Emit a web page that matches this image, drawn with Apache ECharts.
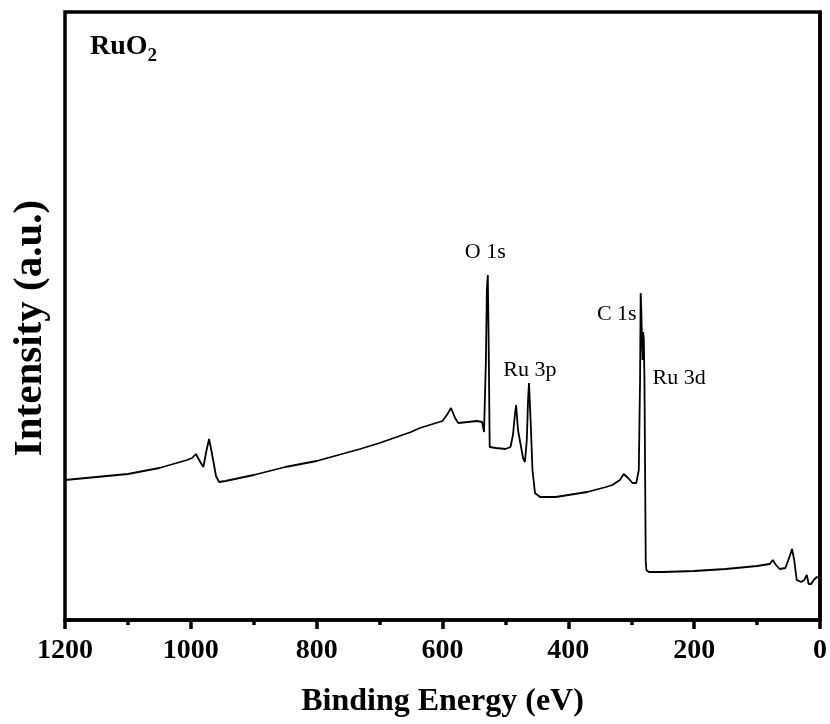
<!DOCTYPE html>
<html><head><meta charset="utf-8">
<script src="https://cdn.jsdelivr.net/npm/echarts@6/dist/echarts.min.js"></script>
<style>html,body{margin:0;padding:0;background:#fff}#c{width:830px;height:724px}</style>
</head><body><div id="c"></div>
<script>
// Binding energy (eV) and intensity (a.u., arbitrary)
const energy = [1200,1100,1050,1006,998,992,985,980,975,971,966,960,955,945,900,850,800,731,700,650,636,600,592,586.5,580,575,560,545,537,534,531,529.5,528,526.5,525,515,500,492,488,485,483,480,472,469,466,464,462.5,460,457,453,445,420,400,370,340,330,318,312,305,298,292,288,286,285,284,283,282,281,280,279,278,277,276,272,250,200,150,100,90,80,75,70,64,55,48,44.5,41,37,30,25,21,18,14,10,5,0];
const intensity = [140,146,152,160,162,166,158,153,170,181,165,144,138,139,145,153,159,171,177,188,192,199,206,212,202,197,198,199,198,188,260,330,345,270,173,172,171,173,185,205,215,190,162,158,180,220,237,200,150,127,123,123,125,128,133,135,140,146,142,137,137,150,240,327,310,280,260,288,280,240,150,60,50,48,48,49,51,54,55,56,60,55,51,52,64,71,60,40,38,40,45,36,36,40,43,42];
const xTicks = [1200,1000,800,600,400,200,0];
const peakLabels = [
  {name:'O 1s', e:532, v:368},
  {name:'Ru 3p', e:461, v:250},
  {name:'C 1s', e:323, v:306},
  {name:'Ru 3d', e:224, v:242}
];
const sampleName = 'RuO';

const data = energy.map((e,i)=>[e,intensity[i]]);
const chart = echarts.init(document.getElementById('c'));
const serif = '"Liberation Serif","Times New Roman",serif';
chart.setOption({
  animation:false,
  grid:{left:65,right:10,top:12,bottom:104,show:true,borderColor:'#000',borderWidth:3.5,containLabel:false},
  xAxis:{type:'value',min:0,max:1200,interval:200,inverse:true,
    name:'Binding Energy (eV)',nameLocation:'middle',nameGap:66,
    nameTextStyle:{fontFamily:serif,fontWeight:'bold',fontSize:32,color:'#000'},
    axisLine:{lineStyle:{color:'#000',width:3.5}},
    axisTick:{show:true,inside:false,length:9,lineStyle:{color:'#000',width:3.5}},
    minorTick:{show:true,splitNumber:2,length:5,lineStyle:{color:'#000',width:3.5}},
    splitLine:{show:false},
    axisLabel:{fontFamily:serif,fontWeight:'bold',fontSize:28,color:'#000',margin:17,
      formatter:v=>xTicks.includes(v)?String(v):''}
  },
  yAxis:{type:'value',min:0,max:608,
    name:'Intensity (a.u.)',nameLocation:'middle',nameGap:14,
    nameTextStyle:{fontFamily:serif,fontWeight:'bold',fontSize:41,color:'#000',padding:[0,24,0,0]},
    axisLine:{show:true,lineStyle:{color:'#000',width:3.5}},
    axisTick:{show:false},axisLabel:{show:false},splitLine:{show:false}
  },
  series:[{
    type:'line',data:data,showSymbol:false,symbol:'none',
    lineStyle:{color:'#000',width:1.8},
    markPoint:{symbol:'circle',symbolSize:0,silent:true,
      label:{show:true,position:'inside',fontFamily:serif,fontSize:22,color:'#000',formatter:p=>p.name},
      data:peakLabels.map(p=>({name:p.name,coord:[p.e,p.v]}))
    }
  }],
  graphic:[{type:'text',left:90,top:33,style:{
    text:'{a|'+sampleName+'}{b|2}',
    rich:{a:{fontFamily:serif,fontWeight:'bold',fontSize:28,fill:'#000'},
          b:{fontFamily:serif,fontWeight:'bold',fontSize:19,fill:'#000',padding:[18,0,0,0]}}
  }}]
});
</script></body></html>
